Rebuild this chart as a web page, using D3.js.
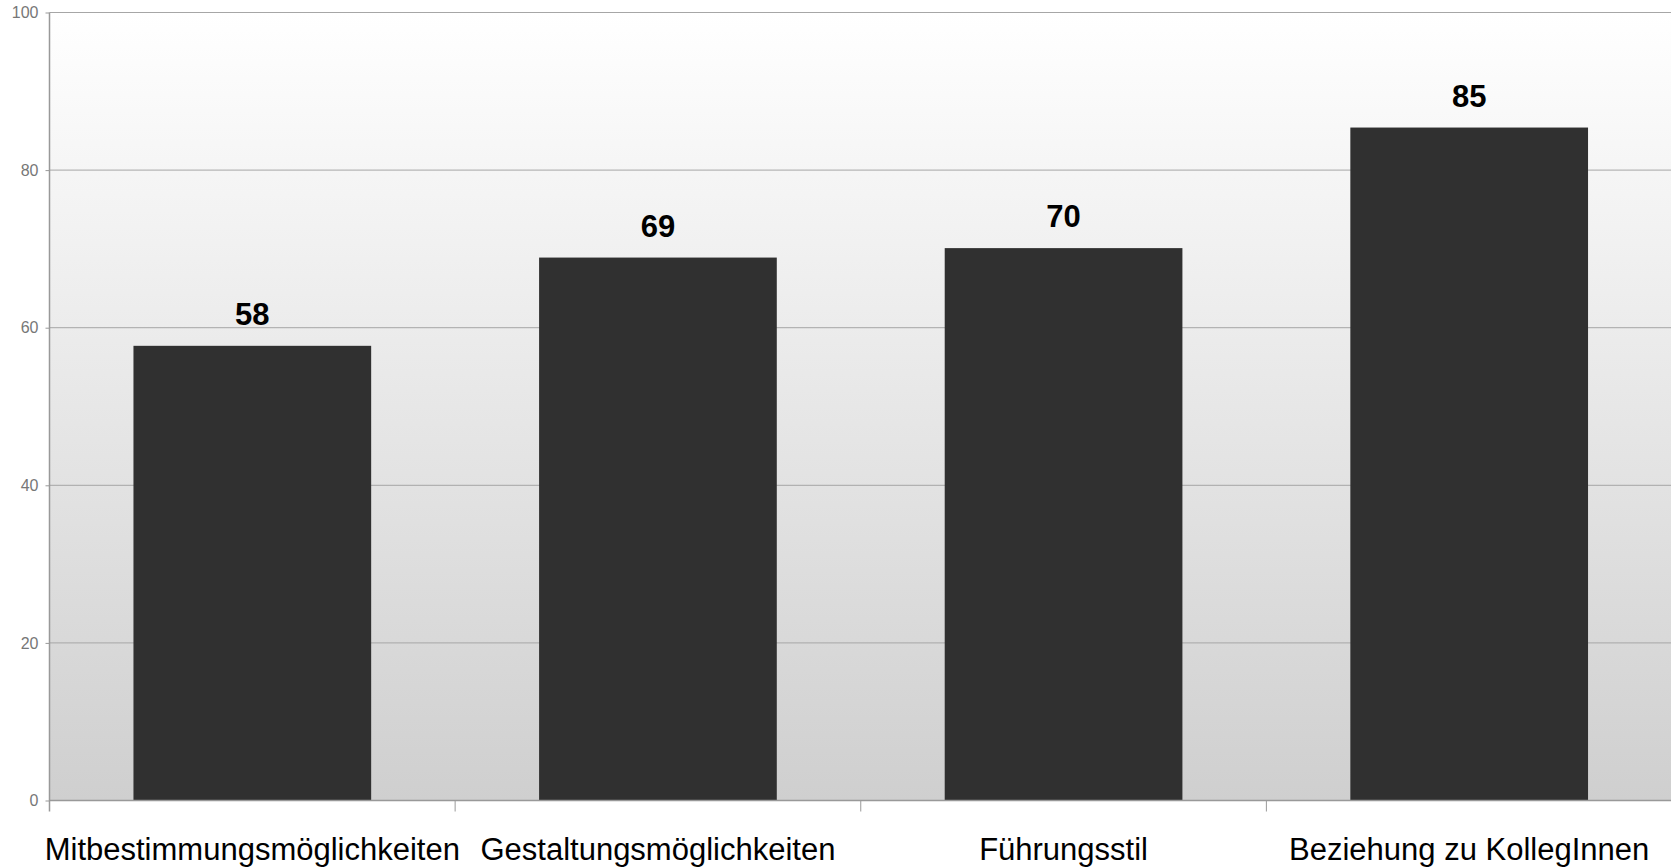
<!DOCTYPE html>
<html>
<head>
<meta charset="utf-8">
<script src="https://cdn.jsdelivr.net/npm/d3@7"></script>
<style>
  body { margin: 0; background: #fff; }
  svg { display: block; font-family: "Liberation Sans", Arial, sans-serif; }
</style>
</head>
<body>
<svg id="chart" width="1671" height="867"></svg>
<script>
// chart data
var categories = ["Mitbestimmungsmöglichkeiten", "Gestaltungsmöglichkeiten", "Führungsstil", "Beziehung zu KollegInnen"];
var values = [57.7, 68.9, 70.1, 85.4];
var valueLabels = ["58", "69", "70", "85"];
var yTicks = [0, 20, 40, 60, 80, 100];

var svg = d3.select("#chart");
// plot box (note: "top" is taken by window.top)
var plotL = 49.5, plotR = 1672, plotT = 12.5, plotB = 800.5;

var x = d3.scaleBand()
	.domain(categories)
	.range([plotL, plotR])
	.paddingInner(0.414)
	.paddingOuter(0.207);

var y = d3.scaleLinear()
	.domain([0, 100])
	.range([plotB, plotT]);

// background gradient
var grad = svg.append("defs").append("linearGradient")
	.attr("id", "bg")
	.attr("x1", 0).attr("y1", 0).attr("x2", 0).attr("y2", 1);
grad.append("stop").attr("offset", "0%").attr("stop-color", "#ffffff");
grad.append("stop").attr("offset", "100%").attr("stop-color", "#cfcfcf");

svg.append("rect")
	.attr("x", plotL).attr("y", plotT)
	.attr("width", plotR - plotL).attr("height", plotB - plotT)
	.attr("fill", "url(#bg)");

// y axis with gridlines
var yAxis = svg.append("g")
	.attr("transform", "translate(" + plotL + ",0)")
	.call(d3.axisLeft(y).tickValues(yTicks).tickSize(4).tickPadding(7));
yAxis.select(".domain").remove();
yAxis.selectAll("line").attr("stroke", "#999");
yAxis.selectAll("text")
	.attr("fill", "#777")
	.style("font-size", "16px")
	.style("font-family", "Liberation Sans, Arial, sans-serif");

svg.append("g")
	.selectAll("line")
	.data(yTicks)
	.join("line")
	.attr("x1", plotL).attr("x2", plotR)
	.attr("y1", function(d){ return y(d); })
	.attr("y2", function(d){ return y(d); })
	.attr("stroke", "#a6a6a6")
	.attr("stroke-width", 1);

// bars
svg.append("g")
	.selectAll("rect")
	.data(values)
	.join("rect")
	.attr("x", function(d, i){ return x(categories[i]); })
	.attr("width", x.bandwidth())
	.attr("y", function(d){ return y(d); })
	.attr("height", function(d){ return plotB - y(d); })
	.attr("fill", "#303030");

// value labels
svg.append("g")
	.selectAll("text")
	.data(values)
	.join("text")
	.attr("x", function(d, i){ return x(categories[i]) + x.bandwidth() / 2; })
	.attr("y", function(d){ return y(d) - 21; })
	.attr("text-anchor", "middle")
	.attr("font-weight", "bold")
	.attr("font-size", 31)
	.attr("fill", "#000")
	.text(function(d, i){ return valueLabels[i]; });

// x axis line, ticks at band boundaries
svg.append("line")
	.attr("x1", plotL).attr("x2", plotR)
	.attr("y1", plotB).attr("y2", plotB)
	.attr("stroke", "#999").attr("stroke-width", 1.5);
svg.append("line")
	.attr("x1", plotL).attr("x2", plotL)
	.attr("y1", plotT).attr("y2", plotB + 11)
	.attr("stroke", "#999").attr("stroke-width", 1.5);

var bounds = categories.map(function(c){ return x(c) - x.step() * x.paddingInner() / 2; }).slice(1);
svg.append("g")
	.selectAll("line")
	.data(bounds)
	.join("line")
	.attr("x1", function(d){ return d; }).attr("x2", function(d){ return d; })
	.attr("y1", plotB).attr("y2", plotB + 11)
	.attr("stroke", "#999");

// category labels
svg.append("g")
	.selectAll("text")
	.data(categories)
	.join("text")
	.attr("x", function(d){ return x(d) + x.bandwidth() / 2; })
	.attr("y", 860)
	.attr("text-anchor", "middle")
	.attr("font-size", 31)
	.attr("fill", "#000")
	.text(function(d){ return d; });
</script>
</body>
</html>
